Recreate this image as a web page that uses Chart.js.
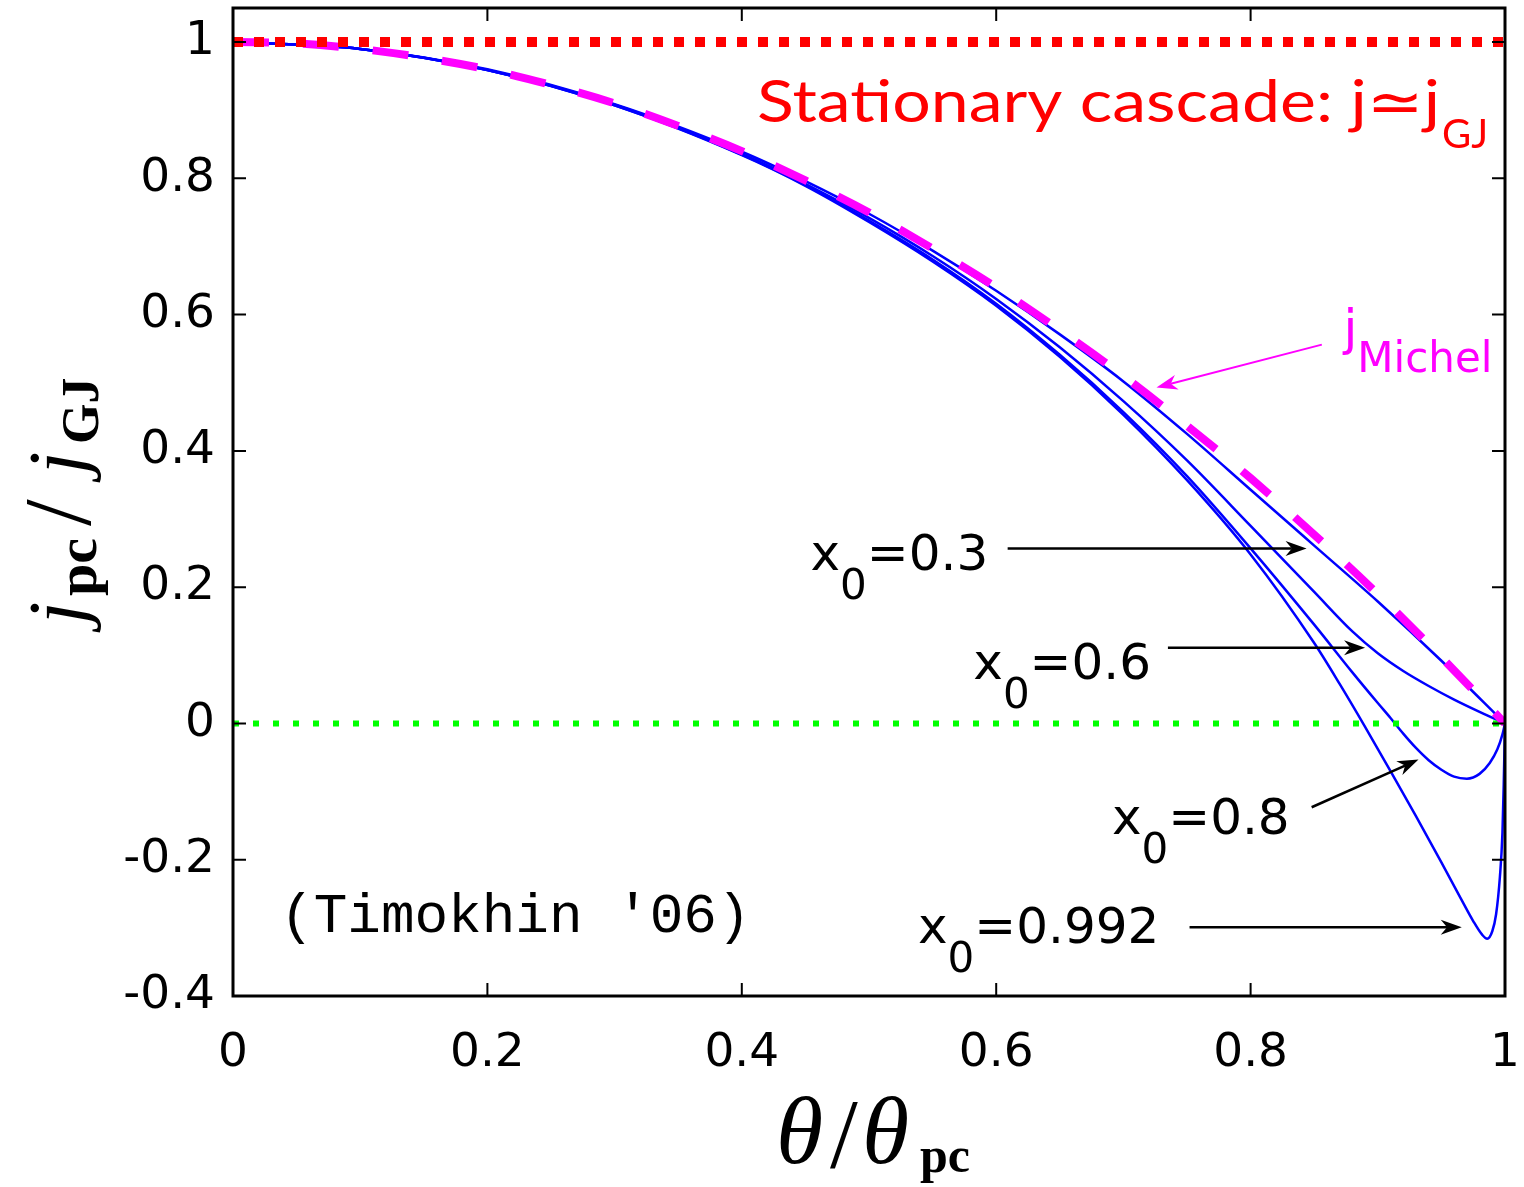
<!DOCTYPE html>
<html>
<head>
<meta charset="utf-8">
<script src="https://cdn.jsdelivr.net/npm/chart.js@4/dist/chart.umd.min.js"></script>
<style>
html, body { margin: 0; padding: 0; background: #fff; }
</style>
</head>
<body>
<canvas id="myChart" width="1524" height="1187"></canvas>
<script>
// tick values
let xTicks = [0, 0.2, 0.4, 0.6, 0.8, 1];
let yTicks = [-0.4, -0.2, 0, 0.2, 0.4, 0.6, 0.8, 1];

// Michel solution (magenta dashed)
let michelX = [0, 0.05, 0.1, 0.15, 0.2, 0.25, 0.3, 0.35, 0.4, 0.45, 0.5, 0.55, 0.6, 0.65, 0.7, 0.75, 0.8, 0.85, 0.9, 0.95, 1];
let michelJ = [1, 0.998, 0.99, 0.977, 0.96, 0.937, 0.91, 0.877, 0.84, 0.797, 0.75, 0.697, 0.64, 0.577, 0.51, 0.437, 0.36, 0.277, 0.19, 0.097, 0];

// blue curves, one per x0
let x03 = [0, 0.1, 0.2, 0.3, 0.4, 0.45, 0.5, 0.55, 0.6, 0.65, 0.7, 0.75, 0.8, 0.85, 0.9, 0.95, 1];
let j03 = [1, 0.99, 0.96, 0.909, 0.839, 0.796, 0.748, 0.694, 0.635, 0.571, 0.502, 0.425, 0.343, 0.261, 0.179, 0.092, 0];

let x06 = [0, 0.1, 0.2, 0.3, 0.4, 0.45, 0.5, 0.55, 0.6, 0.65, 0.7, 0.75, 0.8, 0.85, 0.88, 0.9, 0.92, 0.94, 0.96, 0.98, 1];
let j06 = [1, 0.99, 0.959, 0.908, 0.836, 0.792, 0.742, 0.686, 0.623, 0.552, 0.473, 0.386, 0.29, 0.193, 0.135, 0.103, 0.077, 0.055, 0.035, 0.017, 0];

let x08 = [0, 0.1, 0.2, 0.3, 0.4, 0.45, 0.5, 0.55, 0.6, 0.65, 0.7, 0.75, 0.8, 0.85, 0.88, 0.9, 0.91, 0.92, 0.93, 0.94, 0.95, 0.96, 0.97, 0.98, 0.988, 0.994, 0.998, 1];
let j08 = [1, 0.99, 0.959, 0.907, 0.835, 0.79, 0.738, 0.681, 0.616, 0.541, 0.457, 0.363, 0.257, 0.145, 0.075, 0.03, 0.008, -0.015, -0.036, -0.054, -0.068, -0.078, -0.081, -0.074, -0.058, -0.038, -0.016, 0];

let x0992 = [0, 0.1, 0.2, 0.3, 0.4, 0.45, 0.5, 0.55, 0.6, 0.65, 0.7, 0.75, 0.8, 0.85, 0.87, 0.89, 0.91, 0.93, 0.95, 0.965, 0.975, 0.982, 0.986, 0.99, 0.993, 0.996, 0.998, 0.999, 1];
let j0992 = [1, 0.99, 0.959, 0.907, 0.834, 0.789, 0.736, 0.678, 0.613, 0.538, 0.453, 0.357, 0.248, 0.118, 0.058, -0.005, -0.07, -0.136, -0.204, -0.256, -0.29, -0.31, -0.316, -0.305, -0.28, -0.225, -0.16, -0.09, 0];

// reference levels
let refX = [0, 1];
let cascadeJ = [1, 1];
let zeroJ = [0, 0];

function pts(xs, ys) {
    return xs.map((x, i) => ({x: x, y: ys[i]}));
}

function arrow(ctx, x1, y1, x2, y2, color, w) {
    let ang = Math.atan2(y2 - y1, x2 - x1);
    let L = 21, H = 7.5;
    ctx.strokeStyle = color;
    ctx.fillStyle = color;
    ctx.lineWidth = w;
    ctx.beginPath();
    ctx.moveTo(x1, y1);
    ctx.lineTo(x2 - Math.cos(ang) * L * 0.7, y2 - Math.sin(ang) * L * 0.7);
    ctx.stroke();
    ctx.save();
    ctx.translate(x2, y2);
    ctx.rotate(ang);
    ctx.beginPath();
    ctx.moveTo(0, 0);
    ctx.lineTo(-L, -H);
    ctx.lineTo(-L * 0.7, 0);
    ctx.lineTo(-L, H);
    ctx.closePath();
    ctx.fill();
    ctx.restore();
}

// draw a run of pieces [text, font, dy]
function runText(ctx, parts, x, y) {
    let cx = x;
    parts.forEach(p => {
        ctx.font = p[1];
        ctx.fillText(p[0], cx, y + p[2]);
        cx += ctx.measureText(p[0]).width;
    });
    return cx;
}

function x0Label(ctx, value, x, y) {
    ctx.fillStyle = '#000';
    ctx.textAlign = 'left';
    ctx.textBaseline = 'alphabetic';
    runText(ctx, [
        ['x', '50px "DejaVu Sans"', 0],
        ['0', '42px "DejaVu Sans"', 29],
        ['=' + value, '50px "DejaVu Sans"', 0]
    ], x, y);
}

// pieces placed at fixed offsets: [text, font, offset along, dy]
function placed(ctx, parts, x, y) {
    parts.forEach(p => {
        ctx.font = p[1];
        ctx.fillText(p[0], x + p[2], y + p[3]);
    });
}

const extras = {
    id: 'extras',
    afterDraw(chart) {
        const ctx = chart.ctx;
        const xs = chart.scales.x, ys = chart.scales.y;
        const a = chart.chartArea;
        const px = v => xs.getPixelForValue(v);
        const py = v => ys.getPixelForValue(v);
        ctx.save();

        // frame and inward ticks on all sides
        ctx.strokeStyle = '#000';
        ctx.lineWidth = 2;
        xTicks.forEach(v => {
            let p = px(v);
            ctx.beginPath();
            ctx.moveTo(p, a.bottom); ctx.lineTo(p, a.bottom - 13);
            ctx.moveTo(p, a.top); ctx.lineTo(p, a.top + 13);
            ctx.stroke();
        });
        yTicks.forEach(v => {
            let p = py(v);
            ctx.beginPath();
            ctx.moveTo(a.left, p); ctx.lineTo(a.left + 13, p);
            ctx.moveTo(a.right, p); ctx.lineTo(a.right - 13, p);
            ctx.stroke();
        });
        ctx.lineWidth = 3;
        ctx.strokeRect(a.left, a.top, a.right - a.left, a.bottom - a.top);

        // red label
        ctx.fillStyle = '#ff0000';
        ctx.textAlign = 'left';
        ctx.textBaseline = 'alphabetic';
        let main = 'Stationary cascade: j\u2243j';
        ctx.font = '58px Lato, "DejaVu Sans"';
        let w = ctx.measureText(main).width;
        let target = 683;
        ctx.save();
        ctx.translate(px(0.412), py(0.883));
        ctx.scale(target / w, 1);
        ctx.fillText(main, 0, 0);
        ctx.restore();
        ctx.font = '40px Lato, "DejaVu Sans"';
        ctx.fillText('GJ', px(0.412) + target + 2, py(0.883) + 26);

        // Michel label and arrow
        ctx.fillStyle = '#ff00ff';
        runText(ctx, [
            ['j', '50px "DejaVu Sans"', 0],
            ['Michel', '42px "DejaVu Sans"', 27]
        ], px(0.873), py(0.556));
        arrow(ctx, px(0.856), py(0.556), px(0.726), py(0.493), '#ff00ff', 2);

        // x0 labels and arrows
        x0Label(ctx, '0.3', px(0.454), py(0.225));
        arrow(ctx, px(0.609), py(0.2566), px(0.844), py(0.2566), '#000', 2.5);
        x0Label(ctx, '0.6', px(0.582), py(0.065));
        arrow(ctx, px(0.735), py(0.111), px(0.890), py(0.111), '#000', 2.5);
        x0Label(ctx, '0.8', px(0.691), py(-0.162));
        arrow(ctx, px(0.848), py(-0.123), px(0.932), py(-0.053), '#000', 2.5);
        x0Label(ctx, '0.992', px(0.5385), py(-0.322));
        arrow(ctx, px(0.752), py(-0.299), px(0.966), py(-0.299), '#000', 2.5);

        // citation
        ctx.fillStyle = '#000';
        ctx.font = '56px "Liberation Mono"';
        ctx.fillText("(Timokhin '06)", px(0.037), py(-0.306));

        // x axis title
        placed(ctx, [
            ['\u03b8', 'italic 96px "Liberation Serif"', 0, 0],
            ['/', '100px "Liberation Serif"', 54, 4],
            ['\u03b8', 'italic 96px "Liberation Serif"', 86, 0],
            ['pc', 'bold 50px "Liberation Serif"', 144, 9]
        ], 776, 1163);

        // y axis title (rotated)
        ctx.save();
        ctx.translate(84, 632);
        ctx.rotate(-Math.PI / 2);
        placed(ctx, [
            ['j', 'italic 80px "Liberation Serif"', 8, 0],
            ['pc', 'bold 58px "Liberation Serif"', 36, 12],
            ['/', '96px "Liberation Serif"', 106, 6],
            ['j', 'italic 80px "Liberation Serif"', 158, 0],
            ['GJ', 'bold 52px "Liberation Serif"', 188, 14]
        ], 0, 0);
        ctx.restore();

        ctx.restore();
    }
};

const ctx = document.getElementById('myChart').getContext('2d');
const myChart = new Chart(ctx, {
    type: 'scatter',
    data: {
        datasets: [
            {data: pts(refX, cascadeJ), borderColor: '#ff0000', borderWidth: 10, borderDash: [10, 11], order: 0},
            {data: pts(michelX, michelJ), borderColor: '#ff00ff', borderWidth: 8, borderDash: [36, 34], order: 1},
            {data: pts(refX, zeroJ), borderColor: '#00ff00', borderWidth: 6, borderDash: [6, 14], order: 2},
            {data: pts(x03, j03), borderColor: '#0000ff', borderWidth: 2.5, order: 3},
            {data: pts(x06, j06), borderColor: '#0000ff', borderWidth: 2.5, order: 3},
            {data: pts(x08, j08), borderColor: '#0000ff', borderWidth: 2.5, order: 3},
            {data: pts(x0992, j0992), borderColor: '#0000ff', borderWidth: 2.5, order: 3}
        ]
    },
    options: {
        responsive: false,
        animation: false,
        showLine: true,
        layout: {padding: {top: 8, right: 19, left: 0, bottom: 0}},
        elements: {
            point: {radius: 0},
            line: {cubicInterpolationMode: 'monotone', fill: false}
        },
        plugins: {legend: {display: false}, tooltip: {enabled: false}},
        scales: {
            x: {
                type: 'linear',
                min: 0, max: 1,
                afterBuildTicks: s => { s.ticks = xTicks.map(v => ({value: v})); },
                afterFit: s => { s.height = 191; s.paddingLeft = 0; s.paddingRight = 0; },
                grid: {display: false, drawTicks: false},
                border: {display: false},
                ticks: {
                    color: '#000',
                    font: {family: 'DejaVu Sans', size: 47},
                    padding: 30,
                    maxRotation: 0,
                    callback: v => String(+v.toFixed(1))
                }
            },
            y: {
                type: 'linear',
                min: -0.4, max: 1.05,
                afterBuildTicks: s => { s.ticks = yTicks.map(v => ({value: v})); },
                afterFit: s => { s.width = 233; s.paddingTop = 0; s.paddingBottom = 0; },
                grid: {display: false, drawTicks: false},
                border: {display: false},
                ticks: {
                    color: '#000',
                    font: {family: 'DejaVu Sans', size: 47},
                    padding: 18,
                    callback: v => String(+v.toFixed(1))
                }
            }
        }
    },
    plugins: [extras]
});
</script>
</body>
</html>
